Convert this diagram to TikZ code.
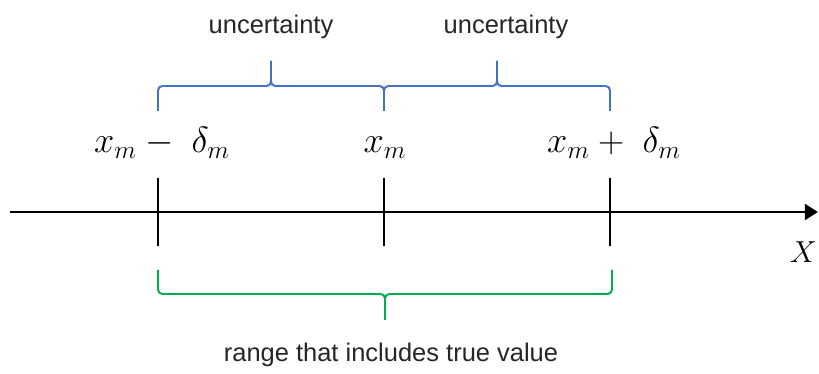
\documentclass[tikz,border=0pt]{standalone}
\usepackage{fontspec}
\setmainfont{Liberation Sans}
\usetikzlibrary{arrows.meta}
\definecolor{braceblue}{RGB}{68,114,196}
\definecolor{bracegreen}{RGB}{0,176,80}

\begin{document}
\begin{tikzpicture}[
    x=0.02cm, y=-0.02cm,
    axisline/.style={line width=1.7pt, -{Triangle[length=7.5pt,width=9pt]}},
    tickline/.style={line width=0.6pt},
    bracepath/.style={line width=1.1pt, rounded corners=2.5pt},
    note/.style={font=\fontsize{14.5}{17}\selectfont, text=black!85},
    valtext/.style={font=\fontsize{20}{24}\selectfont, anchor=base}
]
\useasboundingbox (0,0) rectangle (819,374);

% Axis
\coordinate (start) at (10,212);
\coordinate (end) at (818,212);
\draw[axisline] (start) -- (end);
\node[font=\fontsize{19}{22}\selectfont, anchor=east, inner sep=1pt] (X) at (819,252) {$X$};

% Ticks
\foreach \name/\x in {low/158, mid/384, high/610} {
    \coordinate (\name-top) at (\x,178);
    \coordinate (\name-bot) at (\x,246);
    \draw[tickline] (\name-top) -- (\name-bot);
}

% Values
\node[valtext] (v-low) at (162,153) {$x_m -\;\delta_m$};
\node[valtext] (v-mid) at (385,153) {$x_m$};
\node[valtext] (v-high) at (614,153) {$x_m +\;\delta_m$};

% Uncertainty braces
\foreach \a/\b in {158/384, 384/610} {
    \draw[bracepath, braceblue] (\a,111) -- (\a,86) -- ({(\a+\b)/2},86) -- ({(\a+\b)/2},61);
    \draw[bracepath, braceblue] (\b,111) -- (\b,86) -- ({(\a+\b)/2},86) -- ({(\a+\b)/2},61);
}

% Range brace
\draw[bracepath, bracegreen] (158,270) -- (158,294) -- (385,294) -- (385,320);
\draw[bracepath, bracegreen] (612,270) -- (612,294) -- (385,294) -- (385,320);

% Labels
\node[note] (unc-1) at (271,27) {uncertainty};
\node[note] (unc-2) at (506,27) {uncertainty};
\node[note] (range) at (391,355) {range that includes true value};

\end{tikzpicture}
\end{document}
